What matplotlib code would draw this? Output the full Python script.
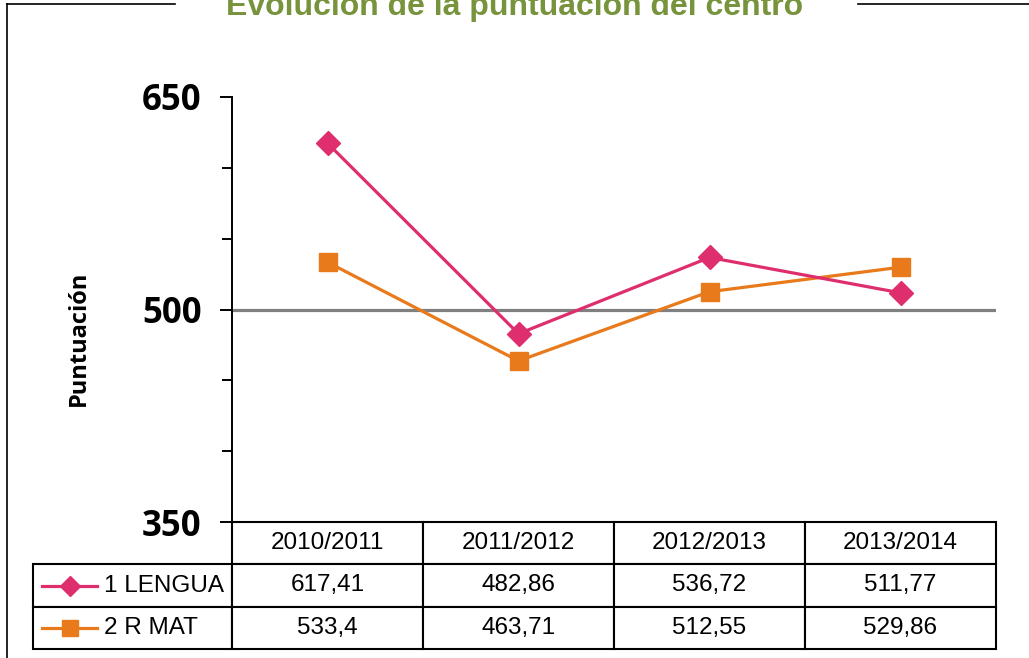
import matplotlib
matplotlib.use('Agg')
import matplotlib.pyplot as plt
from matplotlib.lines import Line2D

# data
years = ['2010/2011', '2011/2012', '2012/2013', '2013/2014']
lengua = [617.41, 482.86, 536.72, 511.77]
rmat = [533.4, 463.71, 512.55, 529.86]
series_names = ['1 LENGUA', '2 R MAT']
yticks = [350, 500, 650]
yminor = [400, 450, 550, 600]
ref_value = 500

pink = '#DF2E6E'
orange = '#E87A1C'
green = '#77933C'

W, H = 1029, 658
fig = plt.figure(figsize=(W / 100, H / 100), dpi=100)

def fx(px):
    return px / W

def fy(px):
    return 1 - px / H

# frame around the chart, broken by the title
fig.add_artist(Line2D([fx(7), fx(7)], [fy(4), 0], color='black', lw=1.2))
fig.add_artist(Line2D([fx(7), fx(175)], [fy(4), fy(4)], color='black', lw=1.2))
fig.add_artist(Line2D([fx(858), 1], [fy(4), fy(4)], color='black', lw=1.2))
fig.text(fx(515), fy(15), 'Evolución de la puntuación del centro', color=green,
         fontsize=23, fontweight='bold', family='Liberation Sans',
         ha='center', va='baseline')

ax_l, ax_r, ax_t, ax_b = 232, 996, 97, 522
ax = fig.add_axes([fx(ax_l), fy(ax_b), fx(ax_r - ax_l), (ax_b - ax_t) / H])

x = list(range(len(years)))
ax.axhline(ref_value, color='#808080', lw=2.3, zorder=1)
ax.plot(x, lengua, color=pink, lw=2.3, marker='D', ms=12, zorder=3)
ax.plot(x, rmat, color=orange, lw=2.3, marker='s', ms=13, zorder=2)

ax.set_xlim(-0.5, len(years) - 0.5)
ax.set_ylim(350, 650)
ax.set_xticks([])
ax.set_yticks(yticks)
ax.set_yticks(yminor, minor=True)
ax.tick_params(axis='y', which='major', length=9, width=1.4, pad=13)
ax.tick_params(axis='y', which='minor', length=7, width=1.4)
for lab in ax.get_yticklabels():
    lab.set_fontfamily('Open Sans')
    lab.set_fontweight('bold')
    lab.set_fontsize(25)
for s in ['top', 'right', 'bottom']:
    ax.spines[s].set_visible(False)
ax.spines['left'].set_linewidth(1.4)
ax.set_ylabel('Puntuación', family='Open Sans', fontweight='bold', fontsize=17)
ax.yaxis.set_label_coords((91 - ax_l) / (ax_r - ax_l), 1 - (338 - ax_t) / (ax_b - ax_t))

# data table under the axes
def fmt(v):
    return ('%g' % v).replace('.', ',')

cell_text = [[series_names[0]] + [fmt(v) for v in lengua],
             [series_names[1]] + [fmt(v) for v in rmat]]
tab_l, tab_b = 33, 649
col_w = [ax_l - tab_l] + [(ax_r - ax_l) / len(years)] * len(years)
tbl = ax.table(cellText=cell_text, colLabels=[''] + years,
               colWidths=col_w, cellLoc='center',
               bbox=[(tab_l - ax_l) / (ax_r - ax_l), -(tab_b - ax_b) / (ax_b - ax_t),
                     (ax_r - tab_l) / (ax_r - ax_l), (tab_b - ax_b) / (ax_b - ax_t)])
tbl.auto_set_font_size(False)
for (r, c), cell in tbl.get_celld().items():
    cell.set_linewidth(1.5)
    cell.get_text().set_fontsize(17.5)
    cell.get_text().set_fontfamily('Liberation Sans')
    if r == 0 and c == 0:
        cell.visible_edges = ''
    elif c == 0:
        cell.get_text().set_ha('left')
        cell.PAD = (104 - tab_l) / (ax_l - tab_l)
        cell._loc = 'left'

# legend keys in the row label cells
row_h = (tab_b - ax_b) / 3
for i, (col, mk, ms) in enumerate([(pink, 'D', 10), (orange, 's', 12)]):
    yy = fy(ax_b + row_h * (i + 1.5))
    fig.add_artist(Line2D([fx(42), fx(97)], [yy, yy], color=col, lw=2.3))
    fig.add_artist(Line2D([fx(69.5)], [yy], color=col, marker=mk, ms=ms, lw=0))

fig.savefig('out.png', dpi=100)
